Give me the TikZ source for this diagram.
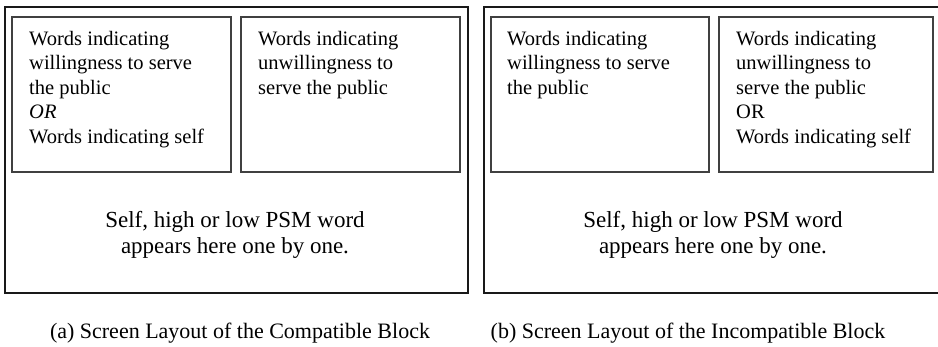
\documentclass[tikz,border=0pt]{standalone}
\usepackage{fontspec}
\setmainfont{Liberation Serif}
\begin{document}
\begin{tikzpicture}[x=1pt,y=-1pt,
  outerbox/.style={draw=black!90,line width=1.8pt},
  innerbox/.style={draw=black!75,line width=1.1pt},
  boxtext/.style={anchor=north west,inner sep=0pt,align=left,font=\fontsize{20.5}{24.5}\selectfont},
  bigtext/.style={anchor=north,inner sep=0pt,align=center,font=\fontsize{23}{26}\selectfont},
  captext/.style={anchor=base,inner sep=0pt,font=\fontsize{22}{26}\selectfont}]
\useasboundingbox[fill=white] (0,0) rectangle (938,346);
% panel (a)
\draw[outerbox] (5,7) rectangle (468,293);
\draw[innerbox] (12,17) rectangle (231,172);
\draw[innerbox] (241,17) rectangle (460,172);
\node[boxtext] (a1) at (29,31) {Words indicating\\willingness to serve\\the public\\\textit{OR}\\Words indicating self};
\node[boxtext] (a2) at (258,31) {Words indicating\\unwillingness to\\serve the public};
\node[bigtext] (a3) at (235,211.5) {Self, high or low PSM word\\appears here one by one.};
\node[captext] (ca) at (240,338) {(a) Screen Layout of the Compatible Block};
% panel (b)
\draw[outerbox] (484,7) rectangle (945,293);
\draw[innerbox] (491,17) rectangle (709,172);
\draw[innerbox] (719,17) rectangle (933,172);
\node[boxtext] (b1) at (507,31) {Words indicating\\willingness to serve\\the public};
\node[boxtext] (b2) at (736,31) {Words indicating\\unwillingness to\\serve the public\\OR\\Words indicating self};
\node[bigtext] (b3) at (713,211.5) {Self, high or low PSM word\\appears here one by one.};
\node[captext] (cb) at (688,338) {(b) Screen Layout of the Incompatible Block};
\end{tikzpicture}
\end{document}
